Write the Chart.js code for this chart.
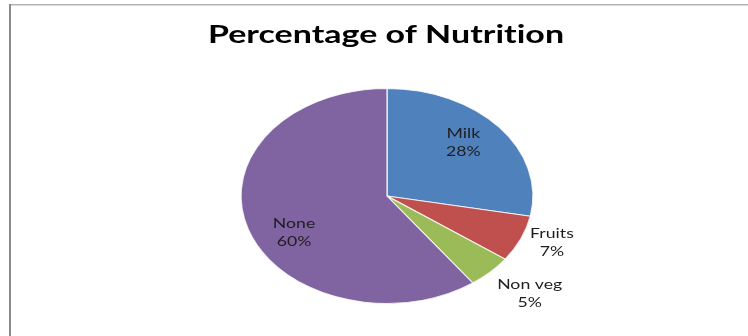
<!DOCTYPE html>
<html>
<head>
<meta charset="utf-8">
<script src="https://cdn.jsdelivr.net/npm/chart.js@4/dist/chart.umd.min.js"></script>
<style>
  html, body { margin: 0; padding: 0; background: #ffffff; }
  #wrap { width: 748px; height: 336px; position: relative; }
</style>
</head>
<body>
<div id="wrap"><canvas id="c" width="748" height="336"></canvas></div>
<script>
const categories = ["Milk", "Fruits", "Non veg", "None"];
const percentages = [28, 7, 5, 60];
const sliceColors = ["#4F81BD", "#C0504D", "#9BBB59", "#8064A2"];
const chartTitle = "Percentage of Nutrition";

// label placement style: radius as fraction of pie radius, angle shift (deg) from slice middle
const labelRadius = [0.72, 1.211, 1.334, 0.724];
const labelAngleShift = [-3.8, -2.3, -2.1, -10.4];

const X_STRETCH = 1.358;

function stretchedText(ctx, text, x, y) {
  ctx.save();
  ctx.translate(x, y);
  ctx.scale(X_STRETCH, 1);
  ctx.fillText(text, 0, 0);
  ctx.restore();
}

const framePlugin = {
  id: 'frame',
  beforeDraw(chart) {
    const ctx = chart.ctx;
    ctx.save();
    ctx.fillStyle = '#ffffff';
    ctx.fillRect(0, 0, chart.width, chart.height);
    ctx.fillStyle = '#b4b4b4';
    ctx.fillRect(9, 4, chart.width - 9, 1.5);
    ctx.fillStyle = '#8a8a8a';
    ctx.fillRect(9, 4, 2, chart.height - 4);
    ctx.restore();
  }
};

const ellipsePlugin = {
  id: 'ellipse',
  beforeDatasetsDraw(chart) {
    const arc = chart.getDatasetMeta(0).data[0];
    const ctx = chart.ctx;
    ctx.save();
    ctx.translate(arc.x, arc.y);
    ctx.scale(X_STRETCH, 1);
    ctx.translate(-arc.x, -arc.y);
  },
  afterDatasetsDraw(chart) {
    const ctx = chart.ctx;
    ctx.restore();
    const meta = chart.getDatasetMeta(0);
    ctx.save();
    if ('letterSpacing' in ctx) ctx.letterSpacing = '0.01px';
    ctx.font = '13px Lato, "Open Sans", sans-serif';
    ctx.fillStyle = '#1e1e1e';
    ctx.textAlign = 'center';
    ctx.textBaseline = 'middle';
    meta.data.forEach((arc, i) => {
      const mid = (arc.startAngle + arc.endAngle) / 2 + labelAngleShift[i] * Math.PI / 180;
      const r = arc.outerRadius * labelRadius[i];
      const x = arc.x + Math.cos(mid) * r * X_STRETCH;
      const y = arc.y + Math.sin(mid) * r;
      stretchedText(ctx, categories[i], x, y - 9.2);
      stretchedText(ctx, percentages[i] + '%', x, y + 9.2);
    });
    // title
    ctx.font = 'bold 25px Lato, "Open Sans", sans-serif';
    ctx.fillStyle = '#000000';
    ctx.textBaseline = 'alphabetic';
    stretchedText(ctx, chartTitle, 386, 43);
    ctx.restore();
  }
};

new Chart(document.getElementById('c'), {
  type: 'pie',
  data: {
    labels: categories,
    datasets: [{
      data: percentages,
      backgroundColor: sliceColors,
      borderColor: 'rgba(255,255,255,0.8)',
      borderWidth: 1,
      hoverOffset: 0
    }]
  },
  options: {
    responsive: false,
    animation: false,
    events: [],
    layout: { padding: { top: 88, bottom: 32, left: 271, right: 245 } },
    plugins: {
      legend: { display: false },
      title: { display: false },
      tooltip: { enabled: false }
    }
  },
  plugins: [framePlugin, ellipsePlugin]
});
</script>
</body>
</html>
